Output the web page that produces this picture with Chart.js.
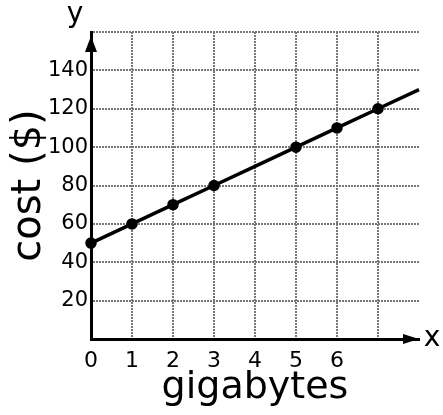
<!DOCTYPE html>
<html lang="en">
<head>
    <meta charset="UTF-8">
    <title>Cost vs gigabytes</title>
    <script src="https://cdn.jsdelivr.net/npm/chart.js"></script>
    <style>
        html, body { margin: 0; padding: 0; background: #fff; }
        #wrap { width: 443px; height: 415px; }
    </style>
</head>
<body>
    <div id="wrap"><canvas id="costChart"></canvas></div>

    <script>
        // values
        const gigabytes = [0, 1, 2, 3, 4, 5, 6, 7, 8];
        const cost = [50, 60, 70, 80, 90, 100, 110, 120, 130];
        const dotAt = [0, 1, 2, 3, 5, 6, 7];   // where a dot was drawn on the line
        const xTickLabels = ['0', '1', '2', '3', '4', '5', '6'];
        const yTickLabels = ['20', '40', '60', '80', '100', '120', '140'];

        const points = gigabytes.map((g, i) => ({ x: g, y: cost[i] }));
        const hand = 'DejaVu Sans';

        // arrow heads on the axes plus the x / y letters
        const axisArrows = {
            id: 'axisArrows',
            afterDraw(chart) {
                const ctx = chart.ctx;
                const a = chart.chartArea;
                ctx.save();
                ctx.fillStyle = '#000';
                ctx.beginPath();
                ctx.moveTo(a.left, a.top + 4);
                ctx.lineTo(a.left - 6, a.top + 20);
                ctx.lineTo(a.left + 6, a.top + 20);
                ctx.closePath();
                ctx.fill();
                ctx.beginPath();
                ctx.moveTo(a.right, a.bottom);
                ctx.lineTo(a.right - 16, a.bottom - 5);
                ctx.lineTo(a.right - 16, a.bottom + 5);
                ctx.closePath();
                ctx.fill();
                ctx.font = '28px "' + hand + '"';
                ctx.textAlign = 'center';
                ctx.textBaseline = 'middle';
                ctx.fillText('y', a.left - 16, a.top - 17);
                ctx.fillText('x', a.right + 13, a.bottom);
                ctx.restore();
            }
        };

        const ctx = document.getElementById('costChart').getContext('2d');
        new Chart(ctx, {
            type: 'scatter',
            data: {
                datasets: [{
                    data: points,
                    showLine: true,
                    clip: false,
                    borderColor: '#000',
                    borderWidth: 3.5,
                    backgroundColor: '#000',
                    pointRadius: c => dotAt.includes(gigabytes[c.dataIndex]) ? 4 : 0,
                    pointHoverRadius: 0
                }]
            },
            options: {
                responsive: true,
                maintainAspectRatio: false,
                animation: false,
                layout: { padding: { top: 32, right: 24, left: 0, bottom: 0 } },
                plugins: {
                    legend: { display: false },
                    tooltip: { enabled: false }
                },
                scales: {
                    x: {
                        type: 'linear',
                        min: 0,
                        max: 8,
                        afterFit: s => { s.height = 76; },
                        ticks: {
                            stepSize: 1,
                            padding: 9,
                            color: '#000',
                            font: { family: hand, size: 22 },
                            callback: v => xTickLabels.includes(String(v)) ? String(v) : ''
                        },
                        grid: {
                            drawTicks: false,
                            color: c => c.tick && (c.tick.value === 0 || c.tick.value === 8) ? 'rgba(0,0,0,0)' : '#777',
                            lineWidth: 2
                        },
                        border: { color: '#000', width: 3, dash: [2, 1] },
                        title: {
                            display: true,
                            text: 'gigabytes',
                            color: '#000',
                            font: { family: hand, size: 38 },
                            padding: { top: 16 }
                        }
                    },
                    y: {
                        min: 0,
                        max: 160,
                        afterFit: s => { s.width = 91; },
                        ticks: {
                            stepSize: 20,
                            padding: 3,
                            color: '#000',
                            font: { family: hand, size: 21 },
                            callback: v => yTickLabels.includes(String(v)) ? String(v) : ''
                        },
                        grid: {
                            drawTicks: false,
                            color: c => c.tick && c.tick.value === 0 ? 'rgba(0,0,0,0)' : '#777',
                            lineWidth: 2
                        },
                        border: { color: '#000', width: 3, dash: [2, 1] },
                        title: {
                            display: true,
                            text: 'cost ($)',
                            color: '#000',
                            font: { family: hand, size: 40 },
                            padding: { top: 6, bottom: 0 }
                        }
                    }
                }
            },
            plugins: [axisArrows]
        });
    </script>
</body>
</html>
